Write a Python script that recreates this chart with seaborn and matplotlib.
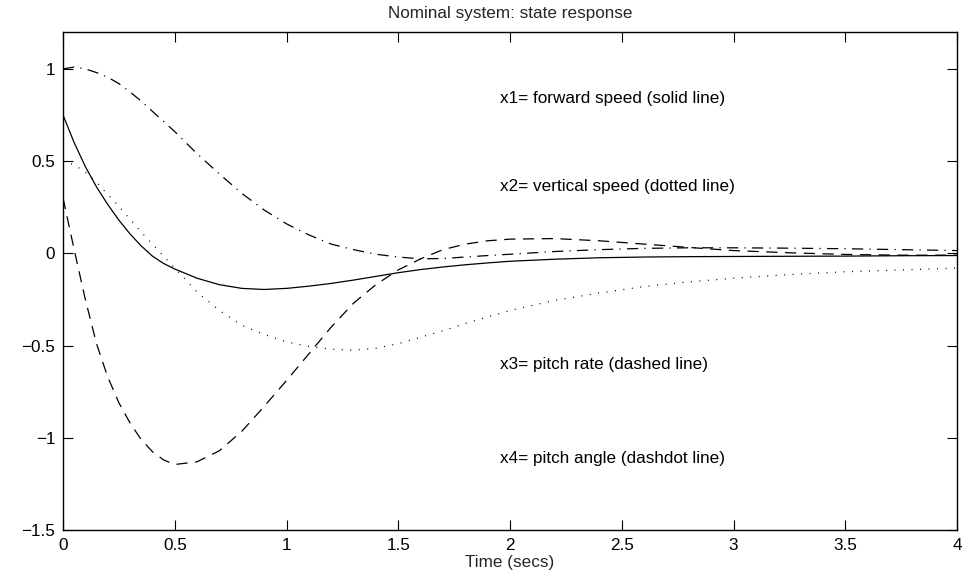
import matplotlib
matplotlib.use("Agg")
import matplotlib.pyplot as plt
import seaborn as sns
import numpy as np

# time grid (secs)
t = [0.0, 0.05, 0.1, 0.15, 0.2, 0.25, 0.3, 0.35, 0.4, 0.45, 0.5, 0.6, 0.7, 0.8, 0.9, 1.0,
     1.1, 1.2, 1.3, 1.4, 1.5, 1.6, 1.7, 1.8, 1.9, 2.0, 2.2, 2.4, 2.6, 2.8, 3.0, 3.25, 3.5, 3.75, 4.0]

# x1 forward speed (solid)
x1 = [0.75, 0.60, 0.47, 0.36, 0.265, 0.18, 0.105, 0.04, -0.015, -0.055, -0.085, -0.135, -0.17, -0.19, -0.196, -0.19,
      -0.178, -0.163, -0.145, -0.125, -0.105, -0.088, -0.074, -0.062, -0.052, -0.043, -0.032, -0.024, -0.02, -0.018, -0.017, -0.016, -0.015, -0.013, -0.012]

# x2 vertical speed (dotted)
x2 = [0.50, 0.48, 0.44, 0.385, 0.32, 0.255, 0.185, 0.115, 0.05, -0.015, -0.08, -0.21, -0.31, -0.39, -0.44, -0.48,
      -0.505, -0.52, -0.525, -0.515, -0.49, -0.455, -0.42, -0.38, -0.345, -0.31, -0.255, -0.215, -0.18, -0.155, -0.135, -0.115, -0.10, -0.09, -0.08]

# x3 pitch rate (dashed)
x3 = [0.30, 0.02, -0.25, -0.49, -0.67, -0.81, -0.92, -1.01, -1.075, -1.12, -1.145, -1.13, -1.07, -0.965, -0.83, -0.69,
      -0.545, -0.40, -0.27, -0.17, -0.09, -0.03, 0.02, 0.05, 0.068, 0.077, 0.08, 0.068, 0.05, 0.032, 0.015, 0.003, -0.006, -0.01, -0.01]

# x4 pitch angle (dashdot)
x4 = [1.0, 1.01, 1.0, 0.98, 0.955, 0.92, 0.875, 0.825, 0.77, 0.715, 0.66, 0.54, 0.43, 0.325, 0.235, 0.16,
      0.10, 0.05, 0.02, -0.005, -0.02, -0.03, -0.028, -0.02, -0.012, -0.005, 0.01, 0.02, 0.027, 0.03, 0.03, 0.028, 0.025, 0.02, 0.015]

xticks = [0, 0.5, 1, 1.5, 2, 2.5, 3, 3.5, 4]
xtick_labels = ["0", "0.5", "1", "1.5", "2", "2.5", "3", "3.5", "4"]
yticks = [-1.5, -1, -0.5, 0, 0.5, 1]
ytick_labels = ["\u22121.5", "\u22121", "\u22120.5", "0", "0.5", "1"]

notes = ["x1= forward speed (solid line)", "x2= vertical speed (dotted line)",
         "x3= pitch rate (dashed line)", "x4= pitch angle (dashdot line)"]
note_y = [0.84, 0.36, -0.605, -1.115]

sns.set_style("ticks")
plt.rcParams['font.family'] = ['Liberation Sans', 'DejaVu Sans']
plt.rcParams['axes.unicode_minus'] = True

fig = plt.figure(figsize=(9.64, 5.77), dpi=100)
ax = fig.add_axes([63/964, 1 - 530/577, (957 - 63)/964, (530 - 32)/577])

lw = 0.9
sns.lineplot(x=t, y=x1, ax=ax, color='black', linewidth=lw, linestyle='-')
sns.lineplot(x=t, y=x2, ax=ax, color='black', linewidth=lw)
ax.lines[-1].set_linestyle((0, (0.8, 6)))
sns.lineplot(x=t, y=x3, ax=ax, color='black', linewidth=lw)
ax.lines[-1].set_linestyle((0, (9, 6)))
sns.lineplot(x=t, y=x4, ax=ax, color='black', linewidth=lw)
ax.lines[-1].set_linestyle((0, (9, 5, 1, 5)))

fs = 12.3
ax.set_xlim(0, 4)
ax.set_ylim(-1.5, 1.2)
ax.set_xticks(xticks)
ax.set_xticklabels(xtick_labels)
ax.set_yticks(yticks)
ax.set_yticklabels(ytick_labels)
ax.tick_params(direction='in', length=7, width=0.8, top=True, right=True,
               labelsize=fs, pad=5.5, colors='black')
for s in ax.spines.values():
    s.set_linewidth(1.0)
    s.set_color('black')

for txt, yv in zip(notes, note_y):
    ax.text(1.955, yv, txt, fontsize=fs, va='center', ha='left', color='black')

ax.set_title("Nominal system: state response", fontsize=fs, pad=10)
ax.set_xlabel("Time (secs)", fontsize=fs, labelpad=2)
ax.set_ylabel("")

fig.savefig("out.png", dpi=100)
